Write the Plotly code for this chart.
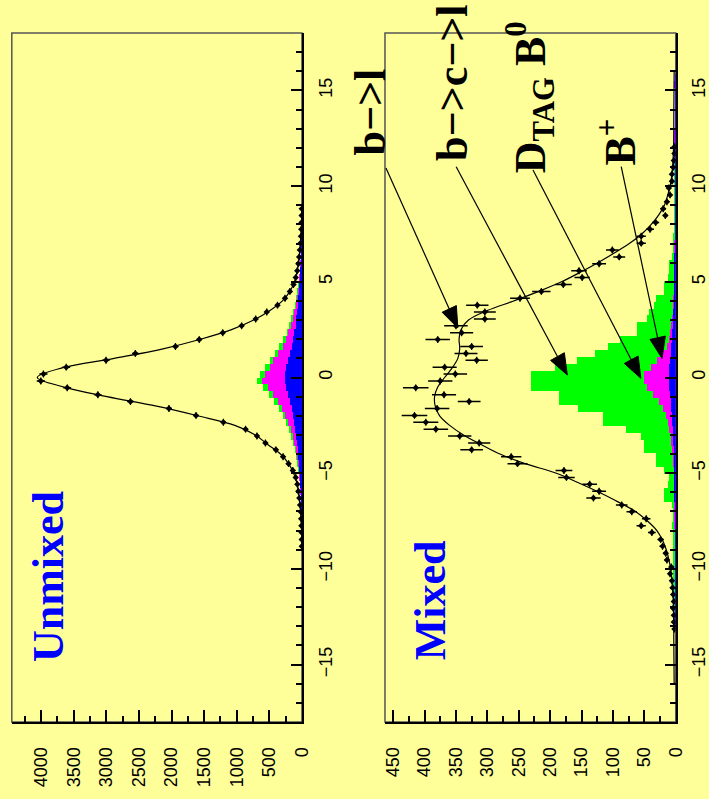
import math
import numpy as np
import plotly.graph_objects as go

W, H = 709, 799
BIN_W = 0.36

# ---------------- data ----------------
# Unmixed panel: bins centred from -8.82 to +8.82 (50 bins of 0.36)
UNMIX_FIRST = -8.82
unmixed_data = [2, 3, 5, 8, 12, 18, 28, 40, 55, 70, 95, 140, 205, 290, 400,
                560, 690, 865, 1205, 1625, 2040, 2630, 3130, 3600, 4005,
                3965, 3615, 3005, 2555, 1940, 1575, 1215, 925, 710, 540,
                375, 260, 185, 130, 95, 72, 55, 42, 32, 22, 15, 10, 6, 4, 2]
unmixed_blue = [1, 2, 3, 5, 7, 10, 13, 17, 22, 28, 35, 42, 50, 60, 70,
                80, 90, 103, 120, 140, 163, 190, 222, 248, 265,
                262, 245, 220, 188, 160, 138, 118, 101, 87, 75,
                65, 57, 49, 41, 34, 28, 22, 17, 13, 10, 7, 5, 3, 2, 1]
unmixed_magenta = [2, 3, 4, 6, 8, 11, 15, 20, 26, 33, 42, 52, 65, 80, 98,
                   120, 148, 178, 215, 260, 310, 375, 450, 525, 610,
                   575, 500, 440, 365, 300, 255, 210, 175, 145, 120,
                   98, 80, 65, 52, 42, 33, 26, 20, 15, 11, 8, 6, 4, 3, 2]
unmixed_green = [3, 4, 5, 7, 10, 13, 17, 23, 30, 38, 48, 60, 75, 92, 112,
                 138, 168, 205, 248, 298, 360, 430, 515, 605, 690,
                 650, 570, 490, 420, 350, 290, 240, 200, 165, 135,
                 112, 92, 75, 60, 48, 38, 30, 23, 17, 13, 10, 7, 5, 4, 3]

# Mixed panel data points: bins centred from -13.14 to +12.06
MIX_DATA_FIRST = -13.14
mixed_data = [2, 3, 3, 4, 3, 4, 5, 6, 9, 7, 14, 16, 21, 24, 38, 55, 47, 70, 86,
              131, 122, 137, 174, 178, 252, 262, 325, 313, 344, 382, 398, 416,
              380, 329, 369, 414, 375,
              351, 368, 317, 334, 325, 379, 341, 350, 304, 304, 316, 248, 214,
              179, 149, 154, 122, 90, 101, 55, 55, 41, 32, 16.5, 20, 14, 9, 11,
              6, 6, 4, 3, 2, 2]

# Mixed panel histograms (cumulative outlines): bins from -12.78 to +15.66
MIX_HIST_FIRST = -12.78
mixed_green = [3, 3, 4, 3, 4, 4, 4, 5, 4, 4, 5, 5, 4, 5, 6, 4, 5, 6, 19, 19,
               12, 11, 19, 32, 32, 50, 50, 56, 79, 116, 116, 155, 186, 186, 230,
               230, 230, 193, 157, 128, 108, 89, 61, 61, 46, 43, 35, 32, 19, 19,
               12, 11, 11, 6, 5, 4, 4, 3, 3, 2, 3, 2, 3, 2, 2, 3, 2, 3, 2, 2,
               3, 3, 1, 1, 1, 1, 1, 1, 2, 1]
mixed_magenta = [1, 1, 1, 1, 1, 1, 1, 1, 1, 1, 1, 1, 1, 1, 1.5, 1.5, 1.5, 1.5, 2, 2,
                 2, 3, 3, 4, 5, 6, 7, 8, 10, 13, 16, 20, 27, 36, 45,
                 50, 50, 40, 30, 20, 14, 11, 9, 7, 6, 5, 4, 4, 3, 3,
                 2, 2, 2, 1.5, 1.5, 1.5, 1, 1, 1, 1, 1, 1, 1, 1, 1, 1, 1, 1, 1, 1,
                 3, 3, 1, 1, 1, 1, 1, 1, 2, 1]
mixed_blue = [0.5, 0.5, 0.5, 0.5, 0.5, 0.5, 0.5, 0.5, 0.5, 0.5, 0.6, 0.6, 0.7, 0.8, 0.9,
              1, 1, 1.1, 1.3, 1.5, 1.8, 2, 2.4, 2.7, 3, 3.5, 4, 4.5, 5, 5.5,
              6, 7, 8, 9, 10, 11, 11, 10, 9, 8, 7, 6, 5.5, 5, 4.5,
              4, 3.5, 3, 2.7, 2.4, 2, 1.8, 1.5, 1.3, 1.1, 1, 0.9, 0.8, 0.7, 0.6,
              0.5, 0.5, 0.5, 0.5, 0.5, 0.5, 0.5, 0.5, 0.5, 0.5,
              0.5, 0.5, 0.5, 0.5, 0.5, 0.5, 0.5, 0.5, 0.5, 0.5]

# Fit curves
unmixed_fit_z = [-9, -8, -7.5, -7, -6.5, -6, -5.5, -5, -4.5, -4, -3.5, -3, -2.5, -2,
                 -1.5, -1, -0.5, 0, 0.5, 1, 1.5, 2, 2.5, 3, 3.5, 4, 4.5, 5, 5.5,
                 6, 6.5, 7, 7.5, 8, 9]
unmixed_fit = [1, 6, 12, 20, 35, 52, 78, 128, 205, 330, 525, 715, 1030, 1600,
               2230, 2990, 3650, 4060, 3680, 2880, 2130, 1555, 1080, 740, 490,
               300, 185, 115, 77, 53, 36, 23, 14, 7, 1]
mixed_fit_z = [-16, -14, -12, -11, -10, -9.5, -9, -8.5, -8, -7.5, -7, -6.5, -6, -5.5,
               -5, -4.5, -4, -3.5, -3, -2.5, -2, -1.5, -1, -0.5, 0, 0.5, 1, 1.5,
               2, 2.5, 3, 3.5, 4, 4.5, 5, 5.5, 6, 6.5, 7, 7.5, 8, 8.5, 9, 9.5,
               10, 10.5, 11, 12, 14, 16]
mixed_fit = [2.5, 3, 3.5, 5, 8, 11, 15, 21, 30, 45, 64, 92, 122, 155, 190, 240,
             280, 310, 338, 360, 376, 383, 384, 379, 368, 356, 347, 344, 345, 342,
             330, 300, 258, 218, 182, 152, 124, 98, 74, 54, 39, 27, 18, 13, 9,
             6.5, 5, 3.5, 3, 2.5]

unmixed_count_ticks = [0, 500, 1000, 1500, 2000, 2500, 3000, 3500, 4000]
mixed_count_ticks = [0, 50, 100, 150, 200, 250, 300, 350, 400, 450]
dz_ticks = [-15, -10, -5, 0, 5, 10, 15]

BG = "#ffff99"
GREEN, MAGENTA, BLUE = "#00ff00", "#ff00ff", "#0000ff"


def centers(first, n):
    return [round(first + BIN_W * i, 2) for i in range(n)]


def px(x, y):
    return x / W, 1 - y / H


fig = go.Figure()


def add_panel(xa, ya, first_h, green, magenta, blue, first_d, data, fz, fv):
    zc = centers(first_h, len(green))
    for vals, col in ((green, GREEN), (magenta, MAGENTA), (blue, BLUE)):
        fig.add_trace(go.Bar(y=zc, x=vals, orientation="h", width=BIN_W,
                             marker=dict(color=col, line=dict(width=0)),
                             opacity=1, xaxis=xa, yaxis=ya, showlegend=False))
    fig.add_trace(go.Scatter(x=fv, y=fz, mode="lines",
                             line=dict(color="black", width=1.2, shape="spline"),
                             xaxis=xa, yaxis=ya, showlegend=False))
    zd = centers(first_d, len(data))
    err = list(np.sqrt(np.array(data, dtype=float)))
    fig.add_trace(go.Scatter(x=data, y=zd, mode="markers",
                             marker=dict(symbol="diamond", size=5, color="black"),
                             error_x=dict(type="data", array=err, color="black",
                                          thickness=1.5, width=0),
                             error_y=dict(type="constant", value=BIN_W / 2,
                                          color="black", thickness=1.2, width=0),
                             xaxis=xa, yaxis=ya, showlegend=False))


add_panel("x", "y", UNMIX_FIRST, unmixed_green, unmixed_magenta, unmixed_blue,
          UNMIX_FIRST, unmixed_data, unmixed_fit_z, unmixed_fit)
add_panel("x2", "y2", MIX_HIST_FIRST, mixed_green, mixed_magenta, mixed_blue,
          MIX_DATA_FIRST, mixed_data, mixed_fit_z, mixed_fit)

Y_DOM = [1 - 722 / H, 1 - 33 / H]
L_DOM = [10 / W, 306 / W]
R_DOM = [390.7 / W, 687.3 / W]

tickfont = dict(family="Liberation Sans", size=18, color="black")
common_x = dict(ticks="inside", ticklen=12, tickwidth=1.5, tickcolor="black",
                showline=True, linecolor="black", linewidth=2, showgrid=False,
                zeroline=False, tickangle=-90, tickfont=tickfont,
                ticklabelstandoff=16, fixedrange=True)
common_y = dict(ticks="inside", ticklen=11, tickwidth=1.5, tickcolor="black",
                showline=True, linecolor="black", linewidth=2, showgrid=False,
                zeroline=False, tickangle=-90, tickfont=tickfont, side="right",
                range=[-18, 18], tickvals=dz_ticks, domain=Y_DOM,
                ticklabelstandoff=6, fixedrange=True,
                minor=dict(dtick=1, tick0=0, ticks="inside", ticklen=6,
                           tickwidth=1.5, tickcolor="black", showgrid=False))

fig.update_layout(
    width=W, height=H, margin=dict(l=0, r=0, t=0, b=0),
    paper_bgcolor=BG, plot_bgcolor=BG, barmode="overlay", bargap=0,
    xaxis=dict(domain=L_DOM, range=[4450, 0], tickvals=unmixed_count_ticks,
               anchor="y",
               minor=dict(dtick=250, tick0=0, ticks="inside", ticklen=6,
                          tickwidth=1.5, tickcolor="black", showgrid=False),
               **common_x),
    yaxis=dict(anchor="x", **common_y),
    xaxis2=dict(domain=R_DOM, range=[463, 0], tickvals=mixed_count_ticks,
                anchor="y2",
                minor=dict(dtick=25, tick0=0, ticks="inside", ticklen=6,
                           tickwidth=1.5, tickcolor="black", showgrid=False),
                **common_x),
    yaxis2=dict(anchor="x2", **common_y),
)

# thin frames (top / left edges)
for dom in (L_DOM, R_DOM):
    fig.add_shape(type="rect", xref="paper", yref="paper", x0=dom[0], x1=dom[1],
                  y0=Y_DOM[0], y1=Y_DOM[1], line=dict(color="#555555", width=1.5),
                  layer="below")

serif = "Liberation Serif"
labels = [
    ("Unmixed", 47, 577, BLUE),
    ("Mixed", 437, 600, BLUE),
    ("b\u2212>l", 375, 112, "black"),
    ("b\u2212>c\u2212>l", 459, 82, "black"),
    ("D<sub>TAG</sub> B<sup>0</sup>", 539, 97, "black"),
    ("B<sup>+</sup>", 628, 142, "black"),
]
for txt, x, y, col in labels:
    xp, yp = px(x, y)
    fig.add_annotation(x=xp, y=yp, xref="paper", yref="paper", text=txt,
                       showarrow=False, textangle=-90, xanchor="center",
                       yanchor="middle",
                       font=dict(family=serif, size=44, color=col, weight="bold"))

# pointer arrows: (head, tail) in pixels, drawn as a line plus a filled triangle
arrows = [((465, 328), (391.7, 168)), ((576.7, 375), (463.3, 166.7)),
          ((651.7, 378.3), (541.7, 170)), ((673.3, 358.3), (631.7, 166.7))]
HEAD_L, HEAD_W = 21, 16
for (hx, hy), (tx, ty) in arrows:
    dx, dy = hx - tx, hy - ty
    n = math.hypot(dx, dy)
    ux, uy = dx / n, dy / n
    bx, by = hx - ux * HEAD_L, hy - uy * HEAD_L
    p1 = (bx - uy * HEAD_W / 2, by + ux * HEAD_W / 2)
    p2 = (bx + uy * HEAD_W / 2, by - ux * HEAD_W / 2)
    x0, y0 = px(tx, ty)
    x1, y1 = px(bx, by)
    fig.add_shape(type="line", xref="paper", yref="paper", x0=x0, y0=y0,
                  x1=x1, y1=y1, line=dict(color="black", width=1.2))
    pts = [px(hx, hy), px(*p1), px(*p2)]
    path = "M {} {} L {} {} L {} {} Z".format(pts[0][0], pts[0][1], pts[1][0],
                                               pts[1][1], pts[2][0], pts[2][1])
    fig.add_shape(type="path", xref="paper", yref="paper", path=path,
                  fillcolor="black", line=dict(color="black", width=1))

fig.write_html("out.html")
